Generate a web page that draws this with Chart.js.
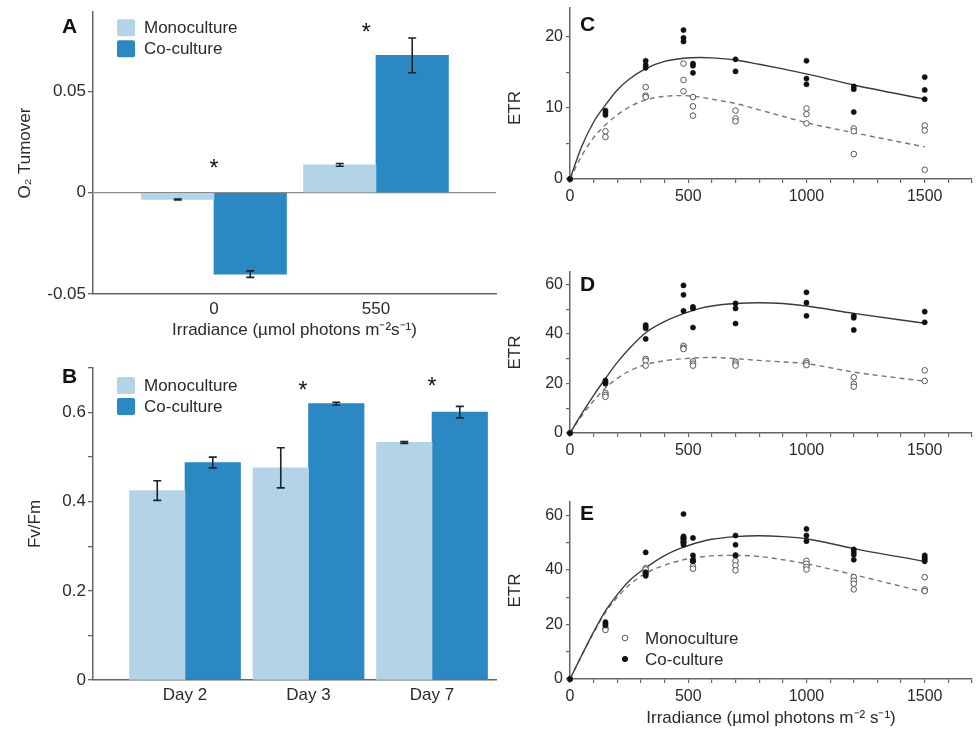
<!DOCTYPE html>
<html>
<head>
<meta charset="utf-8">
<script src="https://cdn.jsdelivr.net/npm/chart.js@4.4.0/dist/chart.umd.min.js"></script>
<style>
body { margin: 0; background: #fff; width: 977px; height: 730px; overflow: hidden; position: relative; }
canvas { position: absolute; }
</style>
</head>
<body>
<canvas id="panelA" width="500" height="345" style="left:0;top:0"></canvas>
<canvas id="panelB" width="500" height="385" style="left:0;top:345px"></canvas>
<canvas id="panelC" width="477" height="236" style="left:500px;top:-6px"></canvas>
<canvas id="panelD" width="477" height="240" style="left:500px;top:230px"></canvas>
<canvas id="panelE" width="477" height="260" style="left:500px;top:470px"></canvas>
<script>
// ---- panel A: O2 turnover ----
const groupsA = ['0', '550'];
const monoA = [-0.0034, 0.0137];
const monoErrA = [0.0002, 0.0007];
const coA = [-0.0402, 0.0677];
const coErrA = [0.0016, 0.0086];
const starXA = [0, 0.94];
const starYA = [0.0132, 0.080];

// ---- panel B: Fv/Fm ----
const daysB = ['Day 2', 'Day 3', 'Day 7'];
const monoB = [0.425, 0.476, 0.533];
const monoErrB = [0.022, 0.045, 0.002];
const coB = [0.488, 0.620, 0.601];
const coErrB = [0.012, 0.003, 0.013];
const starXB = [0.955, 2.0];
const starYB = [0.656, 0.663];

// ---- panels C-E: ETR vs irradiance ----
const irrLevels = [0, 150, 320, 480, 520, 700, 1000, 1200, 1500];

const coC = [[0], [9.6, 9.3, 9.0], [16.6, 16.0, 15.6], [20.9, 19.8, 19.3], [16.2, 15.9, 14.9], [16.8, 15.1], [16.6, 14.1, 13.3], [13.0, 12.6, 9.4], [14.3, 12.5, 11.2]];
const monoC = [[0], [6.7, 5.9], [12.9, 11.7, 11.5], [16.2, 13.9, 12.3], [11.5, 10.2, 8.9], [9.6, 8.5, 8.1], [9.9, 9.1, 7.8], [7.1, 6.7, 3.5], [7.5, 6.8, 1.3]];

const coD = [[0], [21.2, 20.5, 19.9], [43.6, 43.0, 42.3, 38.0], [59.6, 55.8, 49.3], [50.9, 50.3, 42.6], [52.3, 50.3, 44.2], [56.8, 52.6, 47.3], [47.3, 46.5, 41.6], [49.0, 44.7]];
const monoD = [[0], [16.2, 15.4, 14.6], [29.9, 29.2, 27.2], [35.2, 34.4, 33.9], [28.9, 28.0, 27.2], [28.8, 28.0, 27.2], [28.9, 28.2, 27.4], [22.5, 19.8, 18.7], [25.3, 21.0]];

const coE = [[0], [20.9, 20.3, 19.7], [46.5, 39.2, 38.5, 37.9], [60.6, 52.4, 51.7, 50.2, 49.3], [51.8, 45.4, 43.8, 43.2], [52.7, 49.3, 45.4], [55.1, 52.7, 50.6], [47.6, 46.6, 45.6, 43.8], [45.4, 44.6, 43.9, 43.2]];
const monoE = [[0], [18.7, 18.0], [40.7, 40.2, 39.0], [51.7, 51.1, 50.2], [43.4, 41.4, 40.5], [45.4, 43.3, 41.7, 39.9], [43.4, 42.3, 41.1, 40.2], [37.4, 36.1, 35.0, 32.9], [37.4, 32.9, 32.3]];

// fitted curves
const fitIrr = [0, 50, 100, 150, 200, 250, 320, 400, 480, 550, 600, 700, 800, 900, 1000, 1200, 1500];
const fitCoC = [0, 4.6, 8.0, 10.4, 12.5, 14.0, 15.5, 16.5, 16.95, 17.05, 17.0, 16.7, 16.1, 15.45, 14.75, 13.2, 11.2];
const fitMonoC = [0, 3.3, 5.8, 7.6, 9.0, 10.1, 11.1, 11.6, 11.7, 11.5, 11.2, 10.6, 9.7, 8.8, 7.9, 6.5, 4.5];
const fitCoD = [0, 7.8, 15.2, 22.0, 28.5, 34.0, 40.5, 45.0, 48.2, 50.3, 51.3, 52.3, 52.6, 52.3, 51.3, 48.3, 44.3];
const fitMonoD = [0, 7.0, 13.0, 18.2, 22.0, 25.0, 27.6, 29.2, 30.0, 30.4, 30.5, 30.0, 29.3, 28.7, 28.0, 24.6, 20.9];
const fitCoE = [0, 8.8, 17.3, 25.0, 31.0, 36.0, 40.8, 45.3, 48.4, 50.3, 51.3, 52.3, 52.6, 52.3, 51.5, 47.9, 43.2];
const fitMonoE = [0, 8.7, 17.0, 24.5, 30.0, 34.5, 38.8, 41.8, 43.8, 44.8, 45.2, 45.4, 45.0, 43.8, 42.3, 38.3, 31.9];

const MONO = '#b3d4e7';
const CO = '#2a89c3';
const AXIS = '#666';
const FONT = '"Liberation Sans", Arial, sans-serif';

Chart.defaults.font.family = FONT;
Chart.defaults.color = '#2a2a2a';

function drawLetter(ctx, text, x, y) {
    ctx.save();
    ctx.font = 'bold 21px ' + FONT;
    ctx.fillStyle = '#111';
    ctx.textBaseline = 'middle';
    ctx.textAlign = 'left';
    ctx.fillText(text, x, y);
    ctx.restore();
}

// error bars, asterisks, legend and panel letter for the bar panels
function barExtras(opts) {
    return {
        id: 'barExtras',
        afterDatasetsDraw(chart) {
            const ctx = chart.ctx;
            const xs = chart.scales.x;
            const ys = chart.scales.y;
            const area = chart.chartArea;

            ctx.save();
            ctx.strokeStyle = '#1b2330';
            ctx.lineWidth = 1.6;
            opts.errors.forEach((errs, di) => {
                const meta = chart.getDatasetMeta(di);
                meta.data.forEach((bar, i) => {
                    const v = chart.data.datasets[di].data[i].y;
                    const top = ys.getPixelForValue(v + errs[i]);
                    const bot = ys.getPixelForValue(v - errs[i]);
                    ctx.beginPath();
                    ctx.moveTo(bar.x, top); ctx.lineTo(bar.x, bot);
                    ctx.moveTo(bar.x - 4, top); ctx.lineTo(bar.x + 4, top);
                    ctx.moveTo(bar.x - 4, bot); ctx.lineTo(bar.x + 4, bot);
                    ctx.stroke();
                });
            });

            // significance stars
            ctx.fillStyle = '#111';
            ctx.font = '23px ' + FONT;
            ctx.textAlign = 'center';
            ctx.textBaseline = 'alphabetic';
            opts.starX.forEach((sx, i) => {
                ctx.fillText('*', xs.getPixelForValue(sx), ys.getPixelForValue(opts.starY[i]) + 10);
            });

            // legend
            ctx.font = '17px ' + FONT;
            ctx.textAlign = 'left';
            ctx.textBaseline = 'middle';
            chart.data.datasets.forEach((ds, i) => {
                const top = area.top + opts.legendDy + i * 21;
                ctx.fillStyle = ds.backgroundColor;
                ctx.beginPath();
                ctx.roundRect(area.left + 24, top, 18, 17, 2);
                ctx.fill();
                ctx.fillStyle = '#2a2a2a';
                ctx.fillText(ds.label, area.left + 51, top + 9);
            });
            ctx.restore();

            drawLetter(ctx, opts.letter, area.left - 31, area.top + opts.letterDy);
        }
    };
}

function barChart(id, cats, mono, monoErr, co, coErr, cfg) {
    const idx = cats.map((c, i) => i);
    return new Chart(document.getElementById(id), {
        type: 'bar',
        data: {
            datasets: [
                { label: 'Monoculture', data: idx.map(i => ({ x: i, y: mono[i] })), backgroundColor: MONO, barThickness: cfg.barWidth },
                { label: 'Co-culture', data: idx.map(i => ({ x: i, y: co[i] })), backgroundColor: CO, barThickness: cfg.barWidth }
            ]
        },
        options: {
            responsive: false,
            animation: false,
            layout: { padding: { left: 0, right: 4, top: cfg.top, bottom: 0 } },
            plugins: { legend: { display: false }, tooltip: { enabled: false } },
            scales: {
                x: {
                    type: 'linear',
                    offset: false,
                    min: cfg.xMin,
                    max: cfg.xMax,
                    afterBuildTicks: s => { s.ticks = idx.map(v => ({ value: v })); },
                    ticks: { callback: v => cats[v], padding: 5, maxRotation: 0, autoSkip: false, font: { size: 17 } },
                    grid: { display: false, drawTicks: false },
                    border: { color: AXIS, width: 1.5 },
                    title: cfg.xTitle ? { display: true, text: cfg.xTitle, font: { size: 17 }, padding: { top: 0, bottom: 4 } } : { display: false },
                    afterFit: s => { s.height = cfg.xHeight; }
                },
                y: {
                    min: cfg.yMin,
                    max: cfg.yMax,
                    ticks: { stepSize: cfg.yStep, includeBounds: false, callback: cfg.yLabel, padding: 2, font: { size: 17 }, autoSkip: false },
                    grid: cfg.yGrid,
                    border: { color: AXIS, width: 1.5 },
                    title: { display: true, text: cfg.yTitle, font: { size: 17 }, padding: { top: cfg.yTitlePad, bottom: 0 } },
                    afterFit: s => { s.width = 93; }
                }
            }
        },
        plugins: [barExtras(cfg.extras)]
    });
}

barChart('panelA', groupsA, monoA, monoErrA, coA, coErrA, {
    barWidth: 72.5, top: 10, xMin: -0.747, xMax: 1.741, xHeight: 51,
    xTitle: 'Irradiance (µmol photons m⁻²s⁻¹)',
    yMin: -0.05, yMax: 0.089, yStep: 0.05,
    yLabel: v => Math.abs(v) < 1e-9 ? '0' : v.toFixed(2),
    yGrid: {
        drawOnChartArea: true, tickLength: 5, tickColor: AXIS, lineWidth: 1.3,
        color: c => (c.tick && Math.abs(c.tick.value) < 1e-9) ? '#8a8a8a' : 'rgba(0,0,0,0)'
    },
    yTitle: 'O₂ Tumover', yTitlePad: 15,
    extras: { errors: [monoErrA, coErrA], starX: starXA, starY: starYA, legendDy: 7, letter: 'A', letterDy: 15 }
});

barChart('panelB', daysB, monoB, monoErrB, coB, coErrB, {
    barWidth: 55.5, top: 23, xMin: -0.745, xMax: 2.518, xHeight: 50,
    xTitle: null,
    yMin: 0, yMax: 0.7, yStep: 0.1,
    yLabel: v => { const t = Math.round(v * 10); return t % 2 === 0 ? (t === 0 ? '0' : (t / 10).toFixed(1)) : ''; },
    yGrid: { drawOnChartArea: false, tickLength: 5, color: AXIS, lineWidth: 1.3 },
    yTitle: 'Fv/Fm', yTitlePad: 25,
    extras: { errors: [monoErrB, coErrB], starX: starXB, starY: starYB, legendDy: 9, letter: 'B', letterDy: 9 }
});

// ---- light response panels ----
function toPoints(vals) {
    const pts = [];
    vals.forEach((list, i) => list.forEach(v => pts.push({ x: irrLevels[i], y: v })));
    return pts;
}

function etrExtras(opts) {
    return {
        id: 'etrExtras',
        afterDraw(chart) {
            const ctx = chart.ctx;
            const area = chart.chartArea;
            drawLetter(ctx, opts.letter, area.left + 10, area.top + opts.letterDy);

            // y title drawn by hand where it sits off-centre in the figure
            if (opts.yTitleY) {
                ctx.save();
                ctx.font = '17px ' + FONT;
                ctx.fillStyle = '#2a2a2a';
                ctx.textAlign = 'center';
                ctx.textBaseline = 'middle';
                ctx.translate(15, opts.yTitleY);
                ctx.rotate(-Math.PI / 2);
                ctx.fillText('ETR', 0, 0);
                ctx.restore();
            }

            if (!opts.legend) return;
            ctx.save();
            ctx.font = '17px ' + FONT;
            ctx.textAlign = 'left';
            ctx.textBaseline = 'middle';
            const rows = [
                { label: 'Monoculture', fill: '#fff', dy: -41 },
                { label: 'Co-culture', fill: '#111', dy: -20 }
            ];
            rows.forEach(r => {
                const y = area.bottom + r.dy;
                ctx.beginPath();
                ctx.arc(area.left + 55, y, r.fill === '#fff' ? 2.8 : 2.6, 0, Math.PI * 2);
                ctx.fillStyle = r.fill;
                ctx.fill();
                ctx.lineWidth = 1;
                ctx.strokeStyle = r.fill === '#fff' ? '#555' : '#111';
                ctx.stroke();
                ctx.fillStyle = '#2a2a2a';
                ctx.fillText(r.label, area.left + 75, y + 1);
            });
            ctx.restore();
        }
    };
}

function etrChart(id, co, mono, fitCo, fitMono, cfg) {
    return new Chart(document.getElementById(id), {
        type: 'scatter',
        data: {
            datasets: [
                { label: 'Co-culture', data: toPoints(co), pointRadius: 2.6, pointBackgroundColor: '#111', pointBorderColor: '#111', pointBorderWidth: 0.5, clip: false },
                { label: 'Monoculture', data: toPoints(mono), pointRadius: 2.8, pointBackgroundColor: '#fff', pointBorderColor: '#555', pointBorderWidth: 1, clip: false },
                { label: 'fit co', data: fitIrr.map((x, i) => ({ x: x, y: fitCo[i] })), showLine: true, pointRadius: 0, borderColor: '#3a3a3a', borderWidth: 1.4, cubicInterpolationMode: 'monotone', clip: false },
                { label: 'fit mono', data: fitIrr.map((x, i) => ({ x: x, y: fitMono[i] })), showLine: true, pointRadius: 0, borderColor: '#777', borderWidth: 1.4, borderDash: [5, 4], cubicInterpolationMode: 'monotone', clip: false }
            ]
        },
        options: {
            responsive: false,
            animation: false,
            layout: { padding: { left: 0, right: 3, top: cfg.top, bottom: 0 } },
            plugins: { legend: { display: false }, tooltip: { enabled: false } },
            scales: {
                x: {
                    type: 'linear',
                    min: 0,
                    max: 1700,
                    ticks: { stepSize: 100, autoSkip: false, maxRotation: 0, padding: 4, font: { size: 16 }, callback: v => v % 500 === 0 ? String(v) : '' },
                    grid: { drawOnChartArea: false, tickLength: 4, color: AXIS, lineWidth: 1.2 },
                    border: { color: AXIS, width: 1.5 },
                    title: cfg.xTitle ? { display: true, text: cfg.xTitle, font: { size: 17 }, padding: { top: 0, bottom: 1 } } : { display: false },
                    afterFit: s => { s.height = cfg.xHeight; }
                },
                y: {
                    min: 0,
                    max: cfg.yMax,
                    ticks: { stepSize: cfg.yStep, includeBounds: false, autoSkip: false, padding: 3, font: { size: 16 }, callback: v => v % cfg.yLabelStep === 0 ? String(v) : '' },
                    grid: { drawOnChartArea: false, tickLength: 4, color: AXIS, lineWidth: 1.2 },
                    border: { color: AXIS, width: 1.5 },
                    title: { display: !cfg.extras.yTitleY, text: 'ETR', font: { size: 17 }, padding: { top: 5, bottom: 0 } },
                    afterFit: s => { s.width = 70; }
                }
            }
        },
        plugins: [etrExtras(cfg.extras)]
    });
}

etrChart('panelC', coC, monoC, fitCoC, fitMonoC, {
    top: 14, xHeight: 51, yMax: 24, yStep: 5, yLabelStep: 10,
    extras: { letter: 'C', letterDy: 17, yTitleY: 114 }
});

etrChart('panelD', coD, monoD, fitCoD, fitMonoD, {
    top: 42, xHeight: 37, yMax: 65, yStep: 10, yLabelStep: 20,
    extras: { letter: 'D', letterDy: 13 }
});

etrChart('panelE', coE, monoE, fitCoE, fitMonoE, {
    top: 32, xHeight: 51, yMax: 65, yStep: 10, yLabelStep: 20,
    xTitle: 'Irradiance (µmol photons m⁻² s⁻¹)',
    extras: { letter: 'E', letterDy: 12, legend: true }
});
</script>
</body>
</html>
